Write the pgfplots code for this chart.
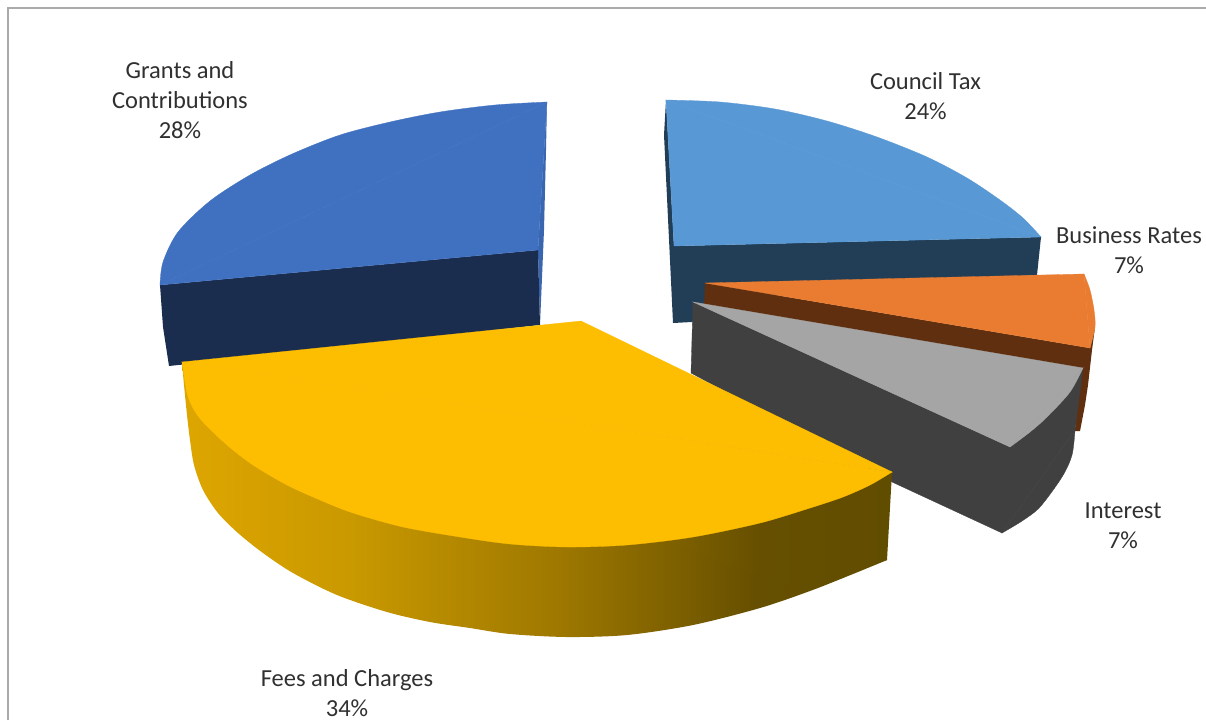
\documentclass[border=0pt]{standalone}
\usepackage{pgfplots}
\pgfplotsset{compat=1.18}
\usepackage{fontspec}
\setmainfont{Carlito}
\definecolor{cTop}{HTML}{5898D4}
\definecolor{cSide}{HTML}{223E57}
\definecolor{oTop}{HTML}{E97C30}
\definecolor{oSide}{HTML}{5F2F0F}
\definecolor{gTop}{HTML}{A5A5A5}
\definecolor{gSide}{HTML}{404040}
\definecolor{yTop}{HTML}{FDBD00}
\definecolor{bTop}{HTML}{4070C0}
\definecolor{bSide}{HTML}{1A2D4F}
\definecolor{bSliver}{HTML}{3A66AF}
\definecolor{lbl}{HTML}{303030}
\pgfdeclarehorizontalshading{yelside}{100bp}{
 rgb(0bp)=(.87,.65,0); rgb(25bp)=(.87,.65,0); rgb(37bp)=(.79,.60,0);
 rgb(51.6bp)=(.62,.47,0); rgb(65.7bp)=(.40,.31,0); rgb(75bp)=(.38,.30,0); rgb(100bp)=(.38,.30,0)}
\begin{document}
\begin{tikzpicture}
\useasboundingbox (0,0) rectangle (1206pt,720pt);
\begin{axis}[
  scale only axis, width=1206pt, height=720pt,
  xmin=0, xmax=1206, ymin=0, ymax=720, y dir=reverse,
  hide axis, clip=true,
  every axis plot/.append style={no markers, forget plot},
]
% frame
\addplot[draw={rgb,255:red,170;green,170;blue,170}, line width=1.2pt] coordinates {(8,720) (8,8) (1206,8)};
% Council Tax
\addplot[fill=cSide, draw=none] coordinates {(674,246) (1041,237) (1037,275) (720,300) (692,322) (673,323) (664,135) (666,100)} --cycle;
\addplot[fill=cTop, draw=cTop, line width=.3pt, smooth] coordinates {(666,100) (720,102) (775,109) (827,121) (877,137) (927,157) (967,178) (1000,200) (1023,218) (1041,237)} --cycle;
\addplot[fill=cTop, draw=cTop, line width=.3pt] coordinates {(666,100) (1041,237) (674,246)} --cycle;
% Grants and Contributions
\addplot[fill=bSliver, draw=none] coordinates {(547,102) (546,150) (544,230) (540,325) (538,250)} --cycle;
\addplot[fill=bSide, draw=none] coordinates {(160,285) (538,250) (540,325) (300,352) (169,366) (163,327)} --cycle;
\addplot[fill=bTop, draw=bTop, line width=.3pt, smooth] coordinates {(547,102) (495,105) (440,112) (390,122) (340,135) (292,154) (250,175) (210,201) (178,232) (163,262) (160,285)} --cycle;
\addplot[fill=bTop, draw=bTop, line width=.3pt] coordinates {(547,102) (160,285) (538,250)} --cycle;
% Business Rates
\addplot[fill=oSide, draw=none] coordinates {(705,283) (1090,348) (1095,327) (1092,350) (1088,385) (1085,405) (1080,431) (1075,431) (1078,380) (704,306)} --cycle;
\addplot[fill=oTop, draw=oTop, line width=.3pt, smooth] coordinates {(1084,274) (1090,290) (1094,310) (1095,327) (1090,348)} --cycle;
\addplot[fill=oTop, draw=oTop, line width=.3pt] coordinates {(705,283) (1084,274) (1090,348)} --cycle;
% Interest
\addplot[fill=gSide, draw=gSide, line width=.3pt] coordinates {(693,302) (1010,447) (1083,368) (1075,430) (1002,533) (892,482) (691,373)} --cycle;
\addplot[fill=gSide, draw=gSide, line width=.3pt, smooth] coordinates {(1075,430) (1072,455) (1062,477) (1040,507) (1022,521) (1002,533)} --cycle;
\addplot[fill=gTop, draw=gTop, line width=.3pt, smooth] coordinates {(1083,368) (1070,392) (1047,417) (1030,432) (1010,447)} --cycle;
\addplot[fill=gTop, draw=gTop, line width=.3pt] coordinates {(693,302) (1083,368) (1010,447)} --cycle;
% Fees and Charges
\addplot[shade, shading=yelside, draw=none, smooth] coordinates {(182,362) (184,385) (187,415) (190,440) (194,465) (203,490) (218,513) (238,533) (263,553) (293,573) (337,595) (387,612) (430,622) (470,628) (510,634) (567,637) (627,635) (693,625) (760,608) (810,591) (853,574) (887,560)} --cycle;
\addplot[shade, shading=yelside, draw=none] coordinates {(182,362) (892,472) (887,560) (800,590)} --cycle;
\addplot[fill=yTop, draw=yTop, line width=.3pt, smooth] coordinates {(892,472) (870,485) (843,497) (810,508) (760,523) (693,537) (627,545) (567,547) (510,544) (460,537) (403,527) (353,513) (320,500) (287,485) (253,465) (227,445) (203,422) (193,408) (187,393) (182,362)} --cycle;
\addplot[fill=yTop, draw=yTop, line width=.3pt] coordinates {(182,362) (581,321) (892,472)} --cycle;
% labels
\tikzset{lab/.style={align=center, inner sep=0pt, text=lbl, font=\fontsize{24.5}{30}\selectfont}}
\node[lab] at (axis cs:180,100) {Grants and\\Contributions\\28\%};
\node[lab] at (axis cs:925.5,96) {Council Tax\\24\%};
\node[lab] at (axis cs:1129,250) {Business Rates\\7\%};
\node[lab] at (axis cs:1123,526) {Interest\\7\%};
\node[lab] at (axis cs:347,693) {Fees and Charges\\34\%};
\end{axis}
\end{tikzpicture}
\end{document}
